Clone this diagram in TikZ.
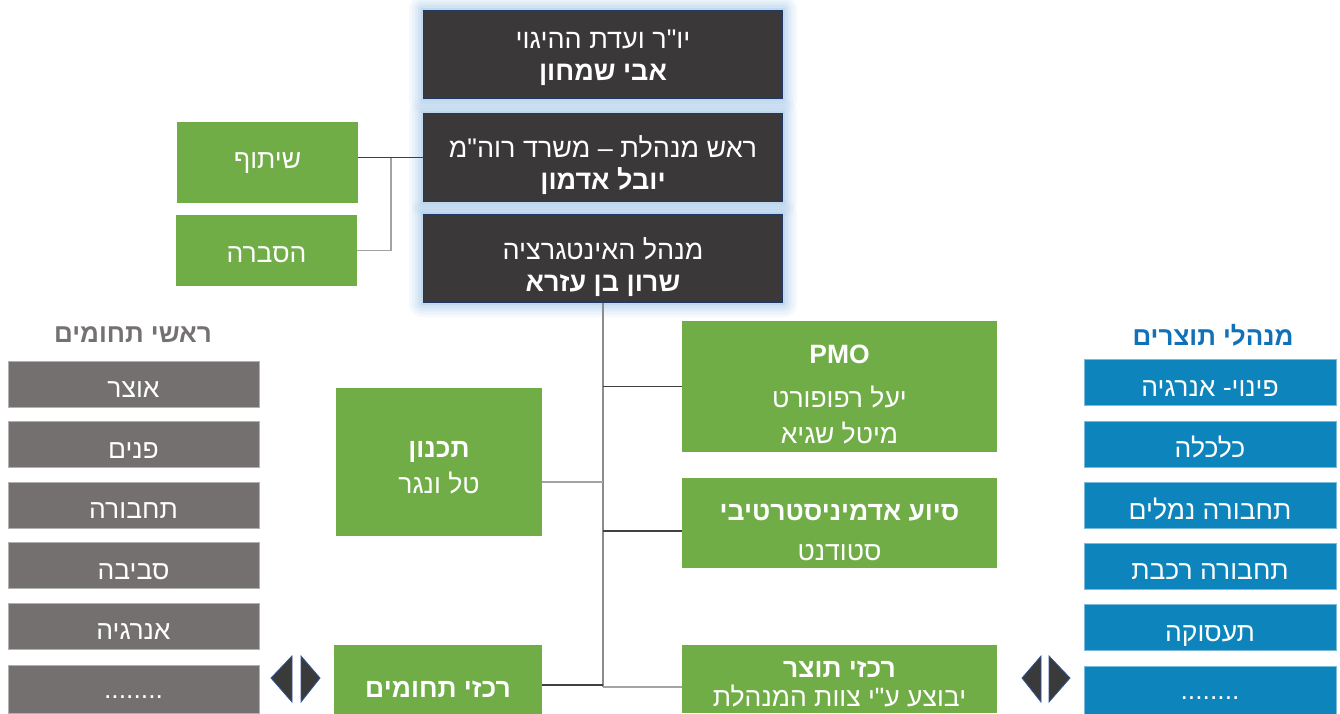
\documentclass[tikz,border=0pt]{standalone}
\usepackage{fontspec}
\setmainfont{Liberation Sans}
\newfontfamily\hebfont[Script=Hebrew]{Liberation Sans}
\TeXXeTstate=1
\usetikzlibrary{backgrounds}
\newcommand\heb[1]{{\hebfont\beginR #1\endR}}
\definecolor{darkfill}{HTML}{3A3838}
\definecolor{navyedge}{HTML}{203864}
\definecolor{greenc}{HTML}{70AD47}
\definecolor{greyc}{HTML}{757070}
\definecolor{greyhead}{HTML}{767171}
\definecolor{bluec}{HTML}{0E84BC}
\definecolor{bluehead}{HTML}{1070B8}
\definecolor{glowc}{HTML}{9DC3E6}
\definecolor{linedark}{HTML}{404040}
\definecolor{linegrey}{HTML}{8C8C8C}
\definecolor{arrowfill}{HTML}{3A3A3A}
\definecolor{arrowedge}{HTML}{2F5597}
\tikzset{
  dbox/.style={fill=darkfill, draw=navyedge, line width=1.5pt, minimum width=359pt, minimum height=88pt, inner sep=0pt},
  dtext/.style={text=white, align=center, inner sep=0pt, font=\fontsize{27}{32}\selectfont},
  gbox/.style={fill=greenc, inner sep=0pt},
  gtext/.style={text=white, align=center, inner sep=0pt, font=\fontsize{26.5}{36}\selectfont},
  greybox/.style={fill=greyc, draw=greyc!55!white, line width=0.8pt, text=white, minimum width=251pt, minimum height=46pt, inner sep=0pt, text height=27pt, text depth=0pt, font=\fontsize{26.5}{30}\selectfont},
  bluebox/.style={fill=bluec, draw=bluec!55!white, line width=0.8pt, text=white, minimum width=252pt, minimum height=46pt, inner sep=0pt, text height=27pt, text depth=0pt, font=\fontsize{26.5}{30}\selectfont},
  dots/.style={text height=18pt, text depth=0pt},
  conn/.style={draw=linedark, line width=1.2pt},
  vconn/.style={draw=linegrey, line width=2pt},
  bconn/.style={draw=linegrey!80!white, line width=1.6pt},
  arr/.style={fill=arrowfill, draw=arrowedge, line width=0.8pt, line join=miter},
}
\begin{document}
\begin{tikzpicture}[x=1pt,y=-1pt]
\useasboundingbox (0,0) rectangle (1340,713);
\clip (0,0) rectangle (1340,713);
% top column
\node[dbox] (t1) at (603,54.5) {};
\node[dbox] (t2) at (603,157.5) {};
\node[dbox] (t3) at (603,258.5) {};
\begin{scope}[on background layer]
\foreach \n in {t1,t2,t3}{
  \foreach \e/\o in {14/0.10,11/0.12,8/0.15,5/0.2,2/0.3}{
    \fill[glowc,opacity=\o,rounded corners=\e pt] ([xshift=-\e pt,yshift=\e pt]\n.north west) rectangle ([xshift=\e pt,yshift=-\e pt]\n.south east);
  }
}
\end{scope}
\node[dtext] (t1x) at ([yshift=-3pt]t1.center) {\heb{יו"ר ועדת ההיגוי}\\\heb{\bfseries אבי שמחון}};
\node[dtext] (t2x) at ([yshift=-8pt]t2.center) {\heb{ראש מנהלת – משרד רוה"מ}\\\heb{\bfseries יובל אדמון}};
\node[dtext] (t3x) at ([yshift=-9pt]t3.center) {\heb{מנהל האינטגרציה}\\\heb{\bfseries שרון בן עזרא}};
% left green
\node[gbox, minimum width=181pt, minimum height=81pt] (s1) at (267.5,162.5) {};
\node[gtext] (s1x) at ([yshift=-1pt]s1.center) {\heb{שיתוף}};
\node[gbox, minimum width=181pt, minimum height=71pt] (s2) at (266.5,250.5) {};
\node[gtext] (s2x) at ([yshift=-4pt]s2.center) {\heb{הסברה}};
\coordinate (j) at (391,157.5);
\draw[bconn] (s2.east) -| (j);
\draw[conn] (t2.west) -- (t2.west -| s1.east);
% middle
\node[gbox, minimum width=315pt, minimum height=131pt] (pmo) at (839.5,386.5) {};
\node[gtext] (pmox) at ([yshift=-8pt]pmo.center) {\bfseries PMO\\[8pt]\heb{יעל רפופורט}\\\heb{מיטל שגיא}};
\node[gbox, minimum width=315pt, minimum height=90pt] (sio) at (839.5,523) {};
\node[gtext] (siox) at ([yshift=-9pt]sio.center) {\heb{\bfseries סיוע אדמיניסטרטיבי}\\[4pt]\heb{סטודנט}};
\node[gbox, minimum width=315pt, minimum height=68pt] (rtz) at (839.5,679) {};
\node[gtext, font=\fontsize{26.5}{29}\selectfont] (rtzx) at ([yshift=-5pt]rtz.center) {\heb{\bfseries רכזי תוצר}\\\heb{יבוצע ע"י צוות המנהלת}};
\node[gbox, minimum width=206pt, minimum height=148pt] (tich) at (439,462) {};
\node[gtext] (tichx) at ([yshift=-6pt]tich.center) {\heb{\bfseries תכנון}\\\heb{טל ונגר}};
\node[gbox, minimum width=208pt, minimum height=86pt] (rtch) at (438,688) {};
\node[gtext] (rtchx) at ([yshift=-1pt]rtch.center) {\heb{\bfseries רכזי תחומים}};
\draw[vconn] (t3.south) -- ([yshift=-8pt]rtz.west -| t3.south);
\draw[conn] (pmo.west) -- (pmo.west -| t3.south);
\draw[bconn] ([yshift=-20pt]tich.east) -- ([yshift=-20pt]tich.east -| t3.south);
\draw[conn] ([yshift=-8pt]sio.west) -- ([yshift=-8pt]sio.west -| t3.south);
\draw[conn] ([yshift=3pt]rtch.east) -- ([yshift=3pt]rtch.east -| t3.south);
\draw[bconn] ([yshift=-8pt]rtz.west) -- ([yshift=-8pt]rtz.west -| t3.south);
% left column
\node[text=greyhead, font=\fontsize{26}{30}\selectfont\bfseries] (lh) at (133,335) {\heb{ראשי תחומים}};
\node[greybox] (g1) at (133.5,384) {\heb{אוצר}};
\node[greybox] (g2) at (133.5,444.5) {\heb{פנים}};
\node[greybox] (g3) at (133.5,505) {\heb{תחבורה}};
\node[greybox] (g4) at (133.5,565.5) {\heb{סביבה}};
\node[greybox] (g5) at (133.5,626) {\heb{אנרגיה}};
\node[greybox, dots, minimum height=48pt] (g6) at (133.5,689) {........};
% right column
\node[text=bluehead, font=\fontsize{26}{30}\selectfont\bfseries] (rh) at (1213,335) {\heb{מנהלי תוצרים}};
\node[bluebox] (b1) at (1210,382.5) {\heb{פינוי- אנרגיה}};
\node[bluebox] (b2) at (1210,444) {\heb{כלכלה}};
\node[bluebox] (b3) at (1210,505.5) {\heb{תחבורה נמלים}};
\node[bluebox] (b4) at (1210,566) {\heb{תחבורה רכבת}};
\node[bluebox] (b5) at (1210,627.5) {\heb{תעסוקה}};
\node[bluebox, dots, minimum height=48pt] (b6) at (1210,690) {........};
% double arrows
\filldraw[arr] (271,678) -- (292,656) -- (292,702) -- cycle;
\filldraw[arr] (320,678) -- (301,656) -- (301,702) -- cycle;
\filldraw[arr] (1022,678) -- (1041,656) -- (1041,702) -- cycle;
\filldraw[arr] (1070,678) -- (1049,656) -- (1049,702) -- cycle;
\end{tikzpicture}
\end{document}
